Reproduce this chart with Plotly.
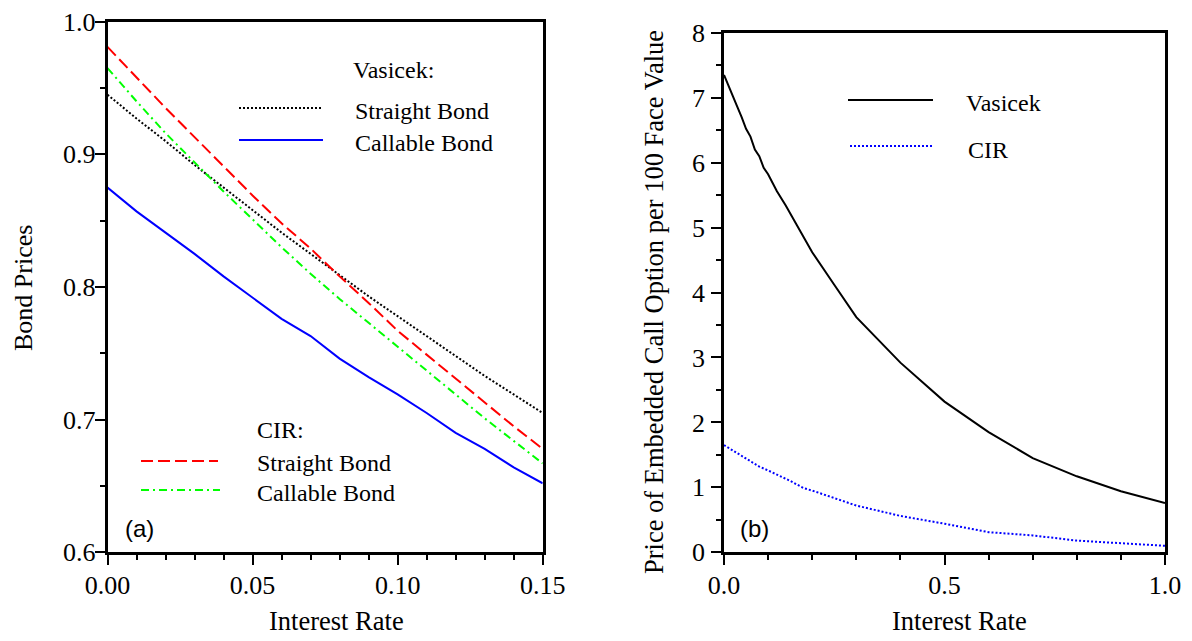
import plotly.graph_objects as go

# page body has an 8px default margin; work in window pixels and compensate
OFF = 8
W, H = 1192 - OFF, 641 - OFF

# ---------------- data: panel (a) ----------------
rate_a = [0.00, 0.01, 0.02, 0.03, 0.04, 0.05, 0.06, 0.07, 0.08, 0.09, 0.10, 0.11, 0.12, 0.13, 0.14, 0.15]
vas_straight = [0.945, 0.927, 0.910, 0.892, 0.875, 0.858, 0.841, 0.825, 0.809, 0.793, 0.778, 0.763, 0.748, 0.733, 0.719, 0.705]
vas_callable = [0.875, 0.857, 0.841, 0.825, 0.808, 0.792, 0.776, 0.763, 0.746, 0.732, 0.719, 0.705, 0.690, 0.678, 0.664, 0.652]
cir_straight = [0.981, 0.958, 0.935, 0.913, 0.891, 0.869, 0.848, 0.829, 0.808, 0.788, 0.767, 0.749, 0.731, 0.713, 0.695, 0.678]
cir_callable = [0.965, 0.940, 0.916, 0.894, 0.872, 0.851, 0.830, 0.810, 0.791, 0.773, 0.755, 0.737, 0.719, 0.701, 0.684, 0.667]

# ---------------- data: panel (b) ----------------
rate_vas_b = [0.00, 0.01, 0.02, 0.03, 0.04, 0.05, 0.06, 0.07, 0.08, 0.09, 0.10, 0.12, 0.14,
              0.16, 0.18, 0.19, 0.20, 0.25, 0.30, 0.40, 0.50, 0.60, 0.70, 0.80, 0.90, 1.00]
call_vas = [7.35, 7.18, 7.00, 6.86, 6.70, 6.52, 6.40, 6.20, 6.10, 5.92, 5.82, 5.56, 5.34,
            5.10, 4.86, 4.72, 4.62, 4.12, 3.62, 2.92, 2.32, 1.85, 1.45, 1.17, 0.94, 0.76]
rate_cir_b = [0.00, 0.05, 0.08, 0.10, 0.15, 0.18, 0.20, 0.30, 0.40, 0.50, 0.60, 0.70, 0.80, 0.90, 1.00]
call_cir = [1.65, 1.45, 1.32, 1.26, 1.10, 0.99, 0.95, 0.72, 0.56, 0.44, 0.31, 0.26, 0.18, 0.14, 0.10]

# tick values
xticks_a = [0.00, 0.05, 0.10, 0.15]
yticks_a = [0.6, 0.7, 0.8, 0.9, 1.0]
xticks_b = [0.0, 0.5, 1.0]
yticks_b = [0, 1, 2, 3, 4, 5, 6, 7, 8]

SERIF = "Liberation Serif, Times New Roman, serif"
SANS = "Liberation Sans, Arial, sans-serif"

DOT = "2px,2px"
DASH = "12px,5px"
DASHDOT = "8px,4px,2px,4px"

fig = go.Figure()

fig.add_trace(go.Scatter(x=rate_a, y=vas_straight, mode="lines", xaxis="x", yaxis="y",
                         line=dict(color="black", width=2, dash=DOT), showlegend=False))
fig.add_trace(go.Scatter(x=rate_a, y=vas_callable, mode="lines", xaxis="x", yaxis="y",
                         line=dict(color="#0000ff", width=2), showlegend=False))
fig.add_trace(go.Scatter(x=rate_a, y=cir_straight, mode="lines", xaxis="x", yaxis="y",
                         line=dict(color="#ff0000", width=2, dash=DASH), showlegend=False))
fig.add_trace(go.Scatter(x=rate_a, y=cir_callable, mode="lines", xaxis="x", yaxis="y",
                         line=dict(color="#00ff00", width=2, dash=DASHDOT), showlegend=False))

fig.add_trace(go.Scatter(x=rate_vas_b, y=call_vas, mode="lines", xaxis="x2", yaxis="y2",
                         line=dict(color="black", width=2), showlegend=False))
fig.add_trace(go.Scatter(x=rate_cir_b, y=call_cir, mode="lines", xaxis="x2", yaxis="y2",
                         line=dict(color="#0000ff", width=2, dash=DOT), showlegend=False))


def px(x):
    return (x - OFF) / W


def py(y):
    return 1 - (y - OFF) / H


axis_common = dict(showline=True, linecolor="black", linewidth=2.5, mirror=True,
                   ticks="outside", ticklen=10, tickwidth=2, tickcolor="black",
                   showgrid=False, zeroline=False, automargin=False,
                   ticklabeloverflow="allow",
                   tickfont=dict(family=SERIF, size=26, color="black"))

minor_common = dict(ticks="outside", ticklen=5, tickwidth=2, tickcolor="black")

fig.update_layout(
    width=W, height=H,
    margin=dict(l=0, r=0, t=0, b=0),
    paper_bgcolor="white", plot_bgcolor="white",
    xaxis=dict(domain=[px(107.5), px(542.7)], range=[0, 0.15], anchor="y",
               tickvals=xticks_a, tickformat=".2f", ticklabelstandoff=-2,
               minor=dict(dtick=0.01, tick0=0, **minor_common),
               **axis_common),
    yaxis=dict(domain=[py(552.3), py(21.7)], range=[0.6, 1.0], anchor="x",
               tickvals=yticks_a, tickformat=".1f", ticklabelstandoff=-6,
               minor=dict(dtick=0.05, tick0=0.6, **minor_common),
               **axis_common),
    xaxis2=dict(domain=[px(724), px(1165)], range=[0, 1.0], anchor="y2",
                tickvals=xticks_b, tickformat=".1f", ticklabelstandoff=-2,
                minor=dict(dtick=0.1, tick0=0, **minor_common),
                **axis_common),
    yaxis2=dict(domain=[py(552.3), py(32.7)], range=[0, 8], anchor="x2",
                tickvals=yticks_b, tickformat="d", ticklabelstandoff=1,
                minor=dict(dtick=0.5, tick0=0, **minor_common),
                **axis_common),
)

annotations = []


def txt(text, x, y, size=24, family=SERIF, xanchor="left", angle=0):
    annotations.append(dict(text=text, x=px(x), y=py(y), xref="paper", yref="paper",
                            xanchor=xanchor, yanchor="middle", showarrow=False, textangle=angle,
                            font=dict(family=family, size=size, color="black")))


# axis titles
txt("Interest Rate", 336, 621, size=26.5, xanchor="center")
txt("Interest Rate", 959, 621, size=26.5, xanchor="center")
txt("Bond Prices", 23, 288, size=26, xanchor="center", angle=-90)
txt("Price of Embedded Call Option per 100 Face Value", 654, 302, size=26.5, xanchor="center", angle=-90)

# panel (a) legend
txt("Vasicek:", 351, 70)
txt("Straight Bond", 353, 111)
txt("Callable Bond", 353, 143)
txt("CIR:", 255, 430)
txt("Straight Bond", 255, 463)
txt("Callable Bond", 255, 493)
# panel (b) legend
txt("Vasicek", 964, 103)
txt("CIR", 966, 150)
# panel labels
txt("(a)", 139, 528, size=24, family=SANS, xanchor="center")
txt("(b)", 754, 528, size=24, family=SANS, xanchor="center")

shapes = []


def sample(x0, x1, y, color, dash):
    shapes.append(dict(type="line", xref="paper", yref="paper",
                       x0=px(x0), x1=px(x1), y0=py(y), y1=py(y),
                       line=dict(color=color, width=2, dash=dash)))


sample(239, 321, 108, "black", DOT)
sample(239, 323, 140, "#0000ff", "solid")
sample(141, 218, 461, "#ff0000", DASH)
sample(141, 220, 490, "#00ff00", DASHDOT)
sample(848, 933, 100, "black", "solid")
sample(850, 933, 146, "#0000ff", DOT)

fig.update_layout(annotations=annotations, shapes=shapes)

fig.write_html("out.html")
